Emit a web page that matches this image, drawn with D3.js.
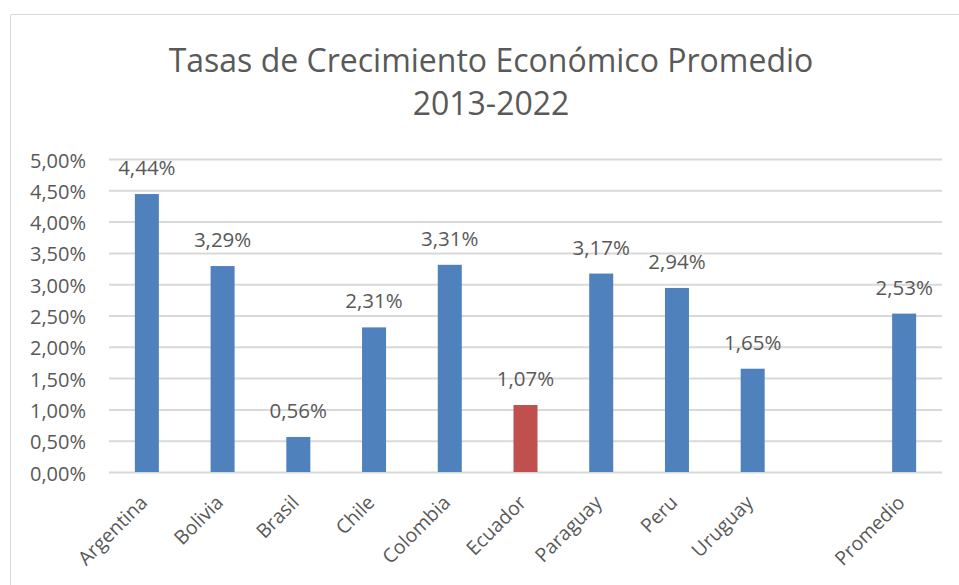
<!DOCTYPE html>
<html lang="es">
  <head>
    <meta charset="utf-8">
    <title>Tasas de Crecimiento Económico Promedio</title>
    <script src="https://d3js.org/d3.v7.min.js"></script>
    <style>
      body { margin: 0; background: #fff; }
      text { font-family: "Open Sans", sans-serif; fill: #595959; }
    </style>
  </head>
  <body>
    <script>
    // datos del grafico
    var paises = ["Argentina", "Bolivia", "Brasil", "Chile", "Colombia", "Ecuador",
                  "Paraguay", "Peru", "Uruguay", "", "Promedio"];
    var tasas = [4.44, 3.29, 0.56, 2.31, 3.31, 1.07, 3.17, 2.94, 1.65, null, 2.53];
    var colores = ["#4F81BD", "#4F81BD", "#4F81BD", "#4F81BD", "#4F81BD", "#C0504D",
                   "#4F81BD", "#4F81BD", "#4F81BD", "#4F81BD", "#4F81BD"];
    var yTicks = [0, 0.5, 1, 1.5, 2, 2.5, 3, 3.5, 4, 4.5, 5];
    var titulo = ["Tasas de Crecimiento Económico Promedio", "2013-2022"];

    var w = 959, h = 585;
    var plotLeft = 109, plotRight = 942, plotTop = 159, plotBottom = 472;

    var fmt = function(v) { return v.toFixed(2).replace(".", ",") + "%"; };

    var svg = d3.select("body").append("svg")
                .attr("width", w)
                .attr("height", h);

    // borde del area del grafico
    svg.append("path")
       .attr("d", "M10.5," + h + "V14.5H" + w)
       .attr("fill", "none")
       .attr("stroke", "#D9D9D9")
       .attr("stroke-width", 1);

    var xScale = d3.scaleBand()
                   .domain(d3.range(paises.length))
                   .range([plotLeft, plotRight])
                   .paddingInner(0.683)
                   .paddingOuter(0.3415);

    var yScale = d3.scaleLinear()
                   .domain([0, 5])
                   .range([plotBottom, plotTop]);

    // titulo
    svg.selectAll("text.titulo")
       .data(titulo)
       .enter()
       .append("text")
       .attr("class", "titulo")
       .attr("x", 491)
       .attr("y", function(d, i) { return 72 + i * 43; })
       .attr("text-anchor", "middle")
       .style("font-size", "32px")
       .text(function(d) { return d; });

    // eje y con lineas de cuadricula
    var yAxis = d3.axisLeft(yScale)
                  .tickValues(yTicks)
                  .tickSize(-(plotRight - plotLeft))
                  .tickPadding(23)
                  .tickFormat(fmt);

    var gy = svg.append("g")
                .attr("transform", "translate(" + plotLeft + ",0)")
                .call(yAxis);
    gy.select(".domain").remove();
    gy.selectAll("line").attr("stroke", "#D9D9D9").attr("stroke-width", 2);
    gy.selectAll("text")
      .attr("dy", "0.4em")
      .style("font-size", "20px")
      .style("font-family", "'Open Sans', sans-serif")
      .style("fill", "#595959");

    // eje x
    var xAxis = d3.axisBottom(xScale)
                  .tickSize(0)
                  .tickFormat(function(i) { return paises[i]; });

    var gx = svg.append("g")
                .attr("transform", "translate(0," + plotBottom + ")")
                .call(xAxis);
    gx.select(".domain").remove();
    gx.selectAll("text")
      .style("font-size", "19.5px")
      .style("font-family", "'Open Sans', sans-serif")
      .style("fill", "#595959")
      .attr("text-anchor", "end")
      .attr("dy", "0.35em")
      .attr("x", 0)
      .attr("y", 0)
      .attr("transform", "translate(-3,27) rotate(-45)");

    var datos = tasas.map(function(v, i) { return { i: i, v: v }; })
                     .filter(function(d) { return d.v !== null; });

    // barras
    svg.selectAll("rect.barra")
       .data(datos)
       .enter()
       .append("rect")
       .attr("class", "barra")
       .attr("x", function(d) { return xScale(d.i); })
       .attr("y", function(d) { return yScale(d.v); })
       .attr("width", xScale.bandwidth())
       .attr("height", function(d) { return plotBottom - yScale(d.v); })
       .attr("fill", function(d) { return colores[d.i]; });

    // etiquetas de datos
    svg.selectAll("text.etiqueta")
       .data(datos)
       .enter()
       .append("text")
       .attr("class", "etiqueta")
       .attr("x", function(d) { return xScale(d.i) + xScale.bandwidth() / 2; })
       .attr("y", function(d) { return yScale(d.v) - 19; })
       .attr("text-anchor", "middle")
       .style("font-size", "20.5px")
       .text(function(d) { return fmt(d.v); });
    </script>
  </body>
</html>
